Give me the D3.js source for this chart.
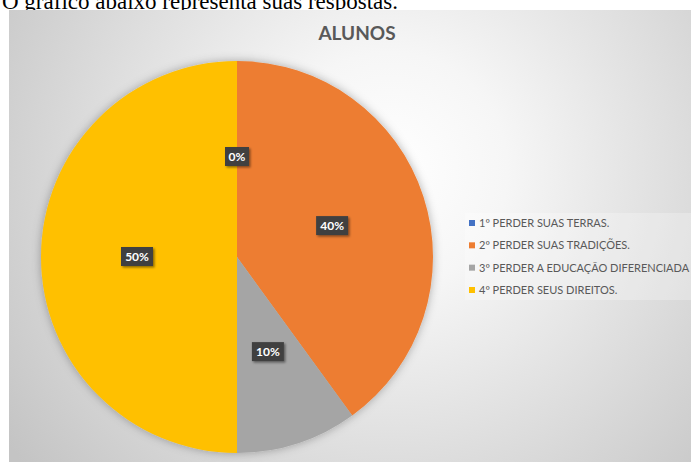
<!DOCTYPE html>
<html>
<head>
<meta charset="utf-8">
<script src="https://cdn.jsdelivr.net/npm/d3@7"></script>
<style>
  body { margin: 0; background: #fff; }
  svg { display: block; }
</style>
</head>
<body>
<svg id="drawing_region"></svg>
<script>
// data
const categories = ["1º PERDER SUAS TERRAS.", "2º PERDER SUAS TRADIÇÕES.", "3º PERDER A EDUCAÇÃO DIFERENCIADA", "4º PERDER SEUS DIREITOS."];
const values = [0, 40, 10, 50];
const labels = ["0%", "40%", "10%", "50%"];
const colors = ["#4472C4", "#ED7D31", "#A5A5A5", "#FFC000"];
const title = "ALUNOS";
const caption = "O gráfico abaixo representa suas respostas.";

const W = 691, H = 462;
const svg = d3.select('#drawing_region').attr('width', W).attr('height', H);
const defs = svg.append('defs');

const grad = defs.append('radialGradient').attr('id', 'bg')
  .attr('gradientUnits', 'userSpaceOnUse')
  .attr('cx', 390).attr('cy', 170).attr('r', 470);
grad.append('stop').attr('offset', '0%').attr('stop-color', '#ffffff');
grad.append('stop').attr('offset', '25%').attr('stop-color', '#f6f6f6');
grad.append('stop').attr('offset', '100%').attr('stop-color', '#c4c4c4');

const shadow = defs.append('filter').attr('id', 'pieShadow')
  .attr('x', '-20%').attr('y', '-20%').attr('width', '140%').attr('height', '140%');
shadow.append('feDropShadow').attr('dx', 0).attr('dy', 0).attr('stdDeviation', 5)
  .attr('flood-color', '#000').attr('flood-opacity', 0.3);

const lblShadow = defs.append('filter').attr('id', 'lblShadow')
  .attr('x', '-30%').attr('y', '-30%').attr('width', '160%').attr('height', '160%');
lblShadow.append('feDropShadow').attr('dx', 1.5).attr('dy', 1.5).attr('stdDeviation', 1.2)
  .attr('flood-color', '#000').attr('flood-opacity', 0.45);

// caption text above the chart (its top is cut off in the original)
svg.append('text').attr('x', 2).attr('y', 9)
  .attr('font-family', 'Liberation Serif, serif').attr('font-size', 23)
  .attr('fill', '#000').text(caption);

// chart area
svg.append('rect').attr('x', 9).attr('y', 10).attr('width', W - 9).attr('height', H - 10)
  .attr('fill', 'url(#bg)');

svg.append('text').attr('x', 357).attr('y', 40).attr('text-anchor', 'middle')
  .attr('font-family', 'Lato, sans-serif').attr('font-weight', 'bold').attr('font-size', 19)
  .attr('fill', '#595959').text(title);

const cx = 237, cy = 257, radius = 196;
const g = svg.append('g').attr('transform', `translate(${cx},${cy})`);
const pie = d3.pie().sort(null).value(d => d);
const arcs = pie(values);
const arc = d3.arc().innerRadius(0).outerRadius(radius);
const lblArc = d3.arc().innerRadius(100).outerRadius(100);

g.append('g').attr('filter', 'url(#pieShadow)')
  .selectAll('path').data(arcs).enter().append('path')
  .attr('d', arc).attr('fill', (d, i) => colors[i]);

const lbl = g.selectAll('.lbl').data(arcs).enter().append('g')
  .attr('class', 'lbl')
  .attr('transform', d => `translate(${lblArc.centroid(d)})`);
lbl.append('rect')
  .attr('x', (d, i) => labels[i].length === 2 ? -12 : -16)
  .attr('y', -10).attr('height', 19)
  .attr('width', (d, i) => labels[i].length === 2 ? 24 : 32)
  .attr('fill', '#404040').attr('filter', 'url(#lblShadow)');
lbl.append('text').attr('text-anchor', 'middle').attr('dy', '4')
  .attr('font-family', 'Lato, sans-serif').attr('font-weight', 'bold').attr('font-size', 12)
  .attr('fill', '#fff').text((d, i) => labels[i]);

// legend
const legend = svg.append('g');
legend.append('rect').attr('x', 465).attr('y', 213).attr('width', W - 465).attr('height', 87)
  .attr('fill', '#fff').attr('opacity', 0.25);
const y = d3.scalePoint().domain(categories).range([223, 290]);
const item = legend.selectAll('.item').data(categories).enter().append('g')
  .attr('transform', d => `translate(469,${y(d)})`);
item.append('rect').attr('x', 0).attr('y', -3).attr('width', 6).attr('height', 6)
  .attr('fill', (d, i) => colors[i]);
item.append('text').attr('x', 10).attr('dy', 4)
  .attr('font-family', 'Lato, sans-serif').attr('font-size', 11)
  .attr('fill', '#595959').text(d => d);
</script>
</body>
</html>
